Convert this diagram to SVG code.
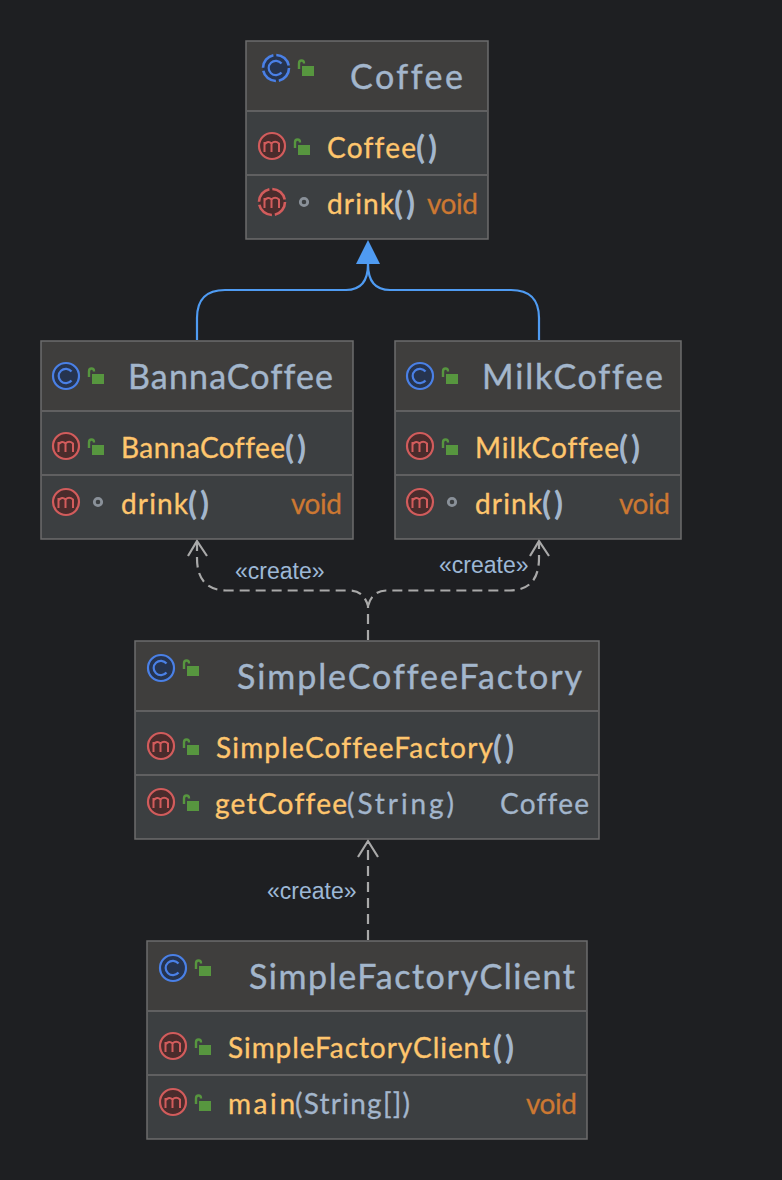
<svg xmlns="http://www.w3.org/2000/svg" width="782" height="1180" viewBox="0 0 782 1180">
<style>
text{font-family:"Lato","Noto Sans",sans-serif;font-variant-ligatures:none}
.box{fill:#3c3f41;stroke:#6c6c6c;stroke-width:1.5}
.head{fill:#3f3e3d}
.div{stroke:#6c6c6c;stroke-width:1.500}
.title{font-size:34px;fill:#a3b6cc;stroke:#a3b6cc;stroke-width:.4}
.m{font-size:28px;fill:#ffc66d;stroke:#ffc66d;stroke-width:.35}
.p{font-size:28px;fill:#a3b6cc;stroke:#a3b6cc;stroke-width:.3}
.par{font-size:33px;font-weight:bold;fill:#a3b6cc}
.t{font-size:28px;fill:#cc7832;stroke:#cc7832;stroke-width:.3}
.rt{font-size:28px;fill:#a3b6cc;stroke:#a3b6cc;stroke-width:.3}
.lab{font-family:"Liberation Sans",Arial,sans-serif;font-size:23px;fill:#9db8d6}
.inh{fill:none;stroke:#4f9bf2;stroke-width:2.200}
.dep{fill:none;stroke:#a9a9a9;stroke-width:2.200;stroke-dasharray:10 6}
.open{fill:none;stroke:#a9a9a9;stroke-width:2.200}
</style>
<defs>
<g id="ic-c"><circle r="13" fill="#26344f" stroke="#4a80e6" stroke-width="2.200"/><path d="M5.500-4.500A7.200 7.200 0 1 0 5.500 4.500" fill="none" stroke="#4a80e6" stroke-width="2.200"/></g>
<g id="ic-ca"><circle r="13" fill="#26344f" stroke="#4a80e6" stroke-width="2.600" stroke-dasharray="17.400 3"/><path d="M5.500-4.500A7.200 7.200 0 1 0 5.500 4.500" fill="none" stroke="#4a80e6" stroke-width="2.200"/></g>
<g id="ic-m"><circle r="13" fill="#4a2c2c" stroke="#d25c5c" stroke-width="2.200"/><path d="M-7.500 6V-4M-7.500-1.500Q-4-6-.5-2.500V6M-.5-2.500Q3-6 7-2.500V6" fill="none" stroke="#d25c5c" stroke-width="2"/></g>
<g id="ic-ma"><circle r="13" fill="#4a2c2c" stroke="#d25c5c" stroke-width="2.600" stroke-dasharray="17.400 3"/><path d="M-7.500 6V-4M-7.500-1.500Q-4-6-.5-2.500V6M-.5-2.500Q3-6 7-2.500V6" fill="none" stroke="#d25c5c" stroke-width="2"/></g>
<g id="ic-pub"><rect x="-4" y="-4" width="12" height="10" fill="#57963f"/><path d="M-7-1V-6.500Q-7-9.500-4.500-9.500T-2-6.500" fill="none" stroke="#57963f" stroke-width="2.400"/></g>
<circle id="ic-pkg" r="3.700" fill="none" stroke="#8a9199" stroke-width="2.800"/>
</defs>

<rect width="782" height="1180" fill="#1e1f22"/>

<g id="connectors">
<path class="inh" d="M197 340V318Q197 290 225 290H346Q368 290 368 264"/>
<path class="inh" d="M539 340V318Q539 290 511 290H390Q368 290 368 264"/>
<polygon points="368,240 380,264 356,264" fill="#4f9bf2"/>
<path class="dep" d="M368 640V606Q364 591 350 590.500H226Q197 590 197 558V542"/>
<path class="dep" d="M368 606Q372 591 386 590.500H510Q539 590 539 558V542"/>
<path class="open" d="M188 556L197 541L207 556M530 556L539 541L549 556"/>
<path class="dep" d="M368 940V842"/>
<path class="open" d="M358 857L368 841L378 857"/>
<text class="lab" x="235" y="579">«create»</text>
<text class="lab" x="439" y="573">«create»</text>
<text class="lab" x="267" y="899">«create»</text>
</g>

<g id="node-coffee">
<rect class="box" x="246" y="41" width="242" height="198"/>
<rect class="head" x="247" y="42" width="240" height="68"/>
<line class="div" x1="247" x2="487" y1="111" y2="111"/>
<line class="div" x1="247" x2="487" y1="175" y2="175"/>
<use href="#ic-ca" x="276" y="68"/><use href="#ic-pub" x="306" y="70"/>
<text class="title" x="350" y="89" textLength="113">Coffee</text>
<use href="#ic-m" x="272" y="146"/><use href="#ic-pub" x="302" y="149"/>
<text class="m" x="327" y="158" textLength="89">Coffee</text><text class="par" x="416" y="159" textLength="21">()</text>
<use href="#ic-ma" x="272" y="202"/><use href="#ic-pkg" x="304" y="202"/>
<text class="m" x="327" y="214" textLength="67">drink</text><text class="par" x="394" y="215" textLength="21">()</text>
<text class="t" x="427" y="214" textLength="51">void</text>
</g>

<g id="node-bannacoffee">
<rect class="box" x="41" y="341" width="312" height="198"/>
<rect class="head" x="42" y="342" width="310" height="68"/>
<line class="div" x1="42" x2="352" y1="411" y2="411"/>
<line class="div" x1="42" x2="352" y1="475" y2="475"/>
<use href="#ic-c" x="66" y="376"/><use href="#ic-pub" x="96" y="378"/>
<text class="title" x="128" y="389" textLength="205">BannaCoffee</text>
<use href="#ic-m" x="66" y="446"/><use href="#ic-pub" x="96" y="449"/>
<text class="m" x="121" y="458" textLength="164">BannaCoffee</text><text class="par" x="285" y="459" textLength="21">()</text>
<use href="#ic-m" x="66" y="502"/><use href="#ic-pkg" x="98" y="502"/>
<text class="m" x="121" y="514" textLength="67">drink</text><text class="par" x="188" y="515" textLength="21">()</text>
<text class="t" x="291" y="514" textLength="51">void</text>
</g>

<g id="node-milkcoffee">
<rect class="box" x="395" y="341" width="286" height="198"/>
<rect class="head" x="396" y="342" width="284" height="68"/>
<line class="div" x1="396" x2="680" y1="411" y2="411"/>
<line class="div" x1="396" x2="680" y1="475" y2="475"/>
<use href="#ic-c" x="420" y="376"/><use href="#ic-pub" x="450" y="378"/>
<text class="title" x="482" y="389" textLength="181">MilkCoffee</text>
<use href="#ic-m" x="420" y="446"/><use href="#ic-pub" x="450" y="449"/>
<text class="m" x="475" y="458" textLength="144">MilkCoffee</text><text class="par" x="619" y="459" textLength="21">()</text>
<use href="#ic-m" x="420" y="502"/><use href="#ic-pkg" x="452" y="502"/>
<text class="m" x="475" y="514" textLength="67">drink</text><text class="par" x="542" y="515" textLength="21">()</text>
<text class="t" x="619" y="514" textLength="51">void</text>
</g>

<g id="node-simplecoffeefactory">
<rect class="box" x="135" y="641" width="464" height="198"/>
<rect class="head" x="136" y="642" width="462" height="68"/>
<line class="div" x1="136" x2="598" y1="711" y2="711"/>
<line class="div" x1="136" x2="598" y1="775" y2="775"/>
<use href="#ic-c" x="161" y="668"/><use href="#ic-pub" x="191" y="670"/>
<text class="title" x="237" y="689" textLength="345">SimpleCoffeeFactory</text>
<use href="#ic-m" x="161" y="746"/><use href="#ic-pub" x="191" y="749"/>
<text class="m" x="216" y="758" textLength="277">SimpleCoffeeFactory</text><text class="par" x="493" y="759" textLength="21">()</text>
<use href="#ic-m" x="161" y="802"/><use href="#ic-pub" x="191" y="805"/>
<text class="m" x="215" y="814" textLength="132">getCoffee</text><text class="p" x="347" y="814" textLength="107">(String)</text>
<text class="rt" x="500" y="814" textLength="89">Coffee</text>
</g>

<g id="node-simplefactoryclient">
<rect class="box" x="147" y="941" width="440" height="198"/>
<rect class="head" x="148" y="942" width="438" height="68"/>
<line class="div" x1="148" x2="586" y1="1011" y2="1011"/>
<line class="div" x1="148" x2="586" y1="1075" y2="1075"/>
<use href="#ic-c" x="173" y="968"/><use href="#ic-pub" x="203" y="970"/>
<text class="title" x="249" y="989" textLength="326">SimpleFactoryClient</text>
<use href="#ic-m" x="173" y="1046"/><use href="#ic-pub" x="203" y="1049"/>
<text class="m" x="228" y="1058" textLength="262">SimpleFactoryClient</text><text class="par" x="493" y="1059" textLength="21">()</text>
<use href="#ic-m" x="173" y="1102"/><use href="#ic-pub" x="203" y="1105"/>
<text class="m" x="228" y="1114" textLength="67">main</text><text class="p" x="295" y="1114" textLength="115">(String[])</text>
<text class="t" x="526" y="1114" textLength="51">void</text>
</g>
</svg>
